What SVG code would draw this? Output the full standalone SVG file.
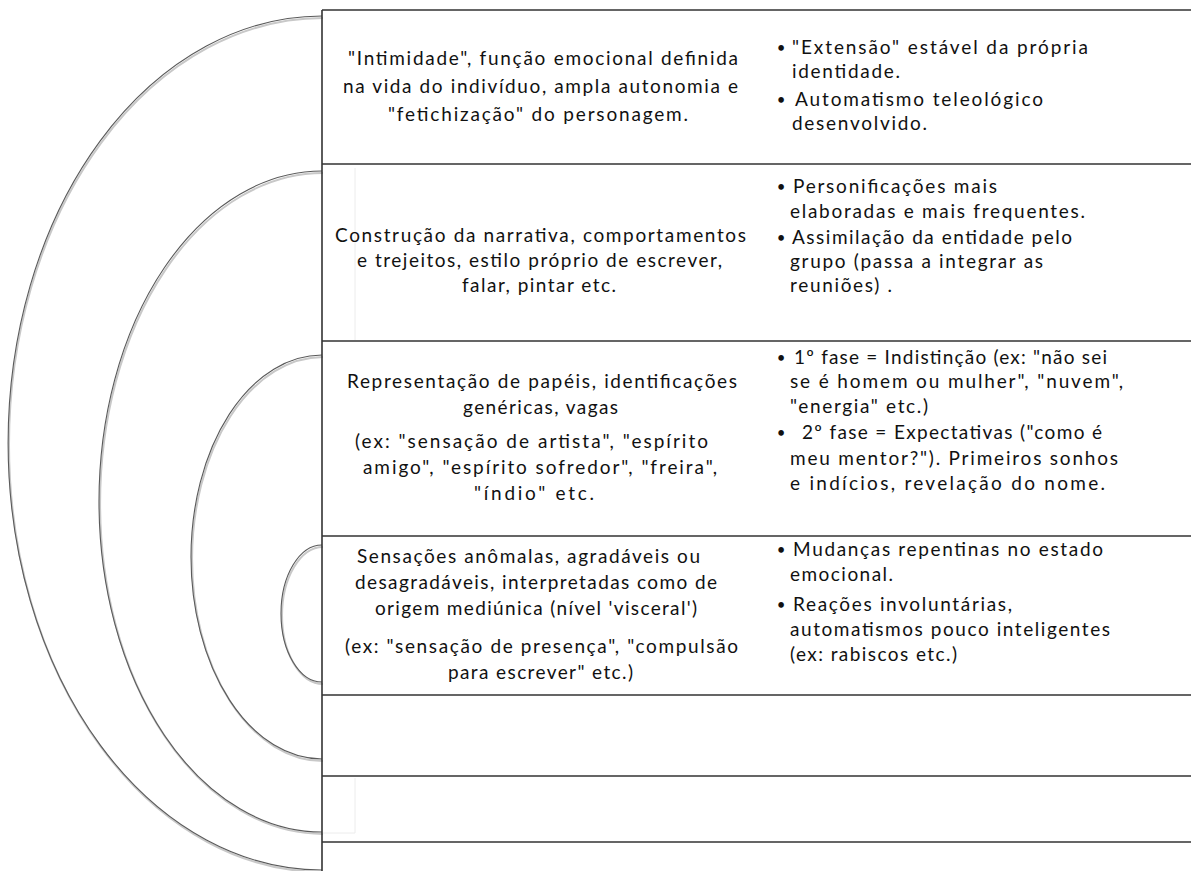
<svg xmlns="http://www.w3.org/2000/svg" width="1191" height="871" viewBox="0 0 1191 871">
<style>
.arc{fill:none;stroke:#5a5a5a;stroke-width:1.1}
.arcsh{fill:none;stroke:#c8c8c8;stroke-width:2}
.rule{stroke:#333;stroke-width:1.6;fill:none}
.faint{stroke:#ececec;stroke-width:1;fill:none}
text{font-family:Lato,"Liberation Sans",sans-serif;font-size:19px;fill:#111}
.b{font-size:15px}
</style>
<rect width="1191" height="871" fill="#fff"/>
<g id="arcs">
<path class="arcsh" d="M323,18 A314,427 0 0 0 323,872"/>
<path class="arcsh" d="M323,173 A223,330.5 0 0 0 323,834"/>
<path class="arcsh" d="M323,357 A131,202 0 0 0 323,761"/>
<path class="arcsh" d="M323,547 A41,68.5 0 0 0 323,684"/>
<path class="arc" d="M322,16 A314,427 0 0 0 322,870"/>
<path class="arc" d="M322,171 A223,330.5 0 0 0 322,832"/>
<path class="arc" d="M322,355 A131,202 0 0 0 322,759"/>
<path class="arc" d="M322,545 A41,68.5 0 0 0 322,682"/>
</g>
<g id="table-lines">
<path class="faint" d="M355,168 V340 M355,778 V833 M322,833 H355"/>
<path class="rule" d="M322,10 V871"/>
<path class="rule" d="M322,10 H1191 M322,164 H1191 M322,341 H1191 M322,536 H1191 M322,695 H1191 M322,776 H1191 M322,842 H1191"/>
</g>
<g id="row1">
<text x="348" y="65" textLength="390">"Intimidade", função emocional definida</text>
<text x="343" y="93" textLength="395">na vida do indivíduo, ampla autonomia e</text>
<text x="388" y="121" textLength="300">"fetichização" do personagem.</text>
<text class="b" x="781" y="53" text-anchor="middle">•</text>
<text x="792" y="54" textLength="296">"Extensão" estável da própria</text>
<text x="792" y="78" textLength="108">identidade.</text>
<text class="b" x="781" y="105" text-anchor="middle">•</text>
<text x="795" y="106" textLength="248">Automatismo teleológico</text>
<text x="792" y="130" textLength="135">desenvolvido.</text>
</g>
<g id="row2">
<text x="335" y="242" textLength="411">Construção da narrativa, comportamentos</text>
<text x="357" y="267" textLength="365">e trejeitos, estilo próprio de escrever,</text>
<text x="462" y="292" textLength="154">falar, pintar etc.</text>
<text class="b" x="781" y="192" text-anchor="middle">•</text>
<text x="793" y="193" textLength="204">Personificações mais</text>
<text x="790" y="218" textLength="295">elaboradas e mais frequentes.</text>
<text class="b" x="781" y="243" text-anchor="middle">•</text>
<text x="792" y="244" textLength="280">Assimilação da entidade pelo</text>
<text x="790" y="268" textLength="253">grupo (passa a integrar as</text>
<text x="790" y="292" textLength="102">reuniões) .</text>
</g>
<g id="row3">
<text x="347" y="388" textLength="390">Representação de papéis, identificações</text>
<text x="463" y="414" textLength="155">genéricas, vagas</text>
<text x="355" y="448" textLength="353">(ex: "sensação de artista", "espírito</text>
<text x="363" y="474" textLength="354">amigo", "espírito sofredor", "freira",</text>
<text x="474" y="500" textLength="120">"índio" etc.</text>
<text class="b" x="781" y="363" text-anchor="middle">•</text>
<text x="794" y="364" textLength="313">1º fase = Indistinção (ex: "não sei</text>
<text x="790" y="388" textLength="333">se é homem ou mulher", "nuvem",</text>
<text x="790" y="413" textLength="138">"energia" etc.)</text>
<text class="b" x="781" y="438" text-anchor="middle">•</text>
<text x="802" y="439" textLength="300">2º fase = Expectativas ("como é</text>
<text x="790" y="465" textLength="328">meu mentor?"). Primeiros sonhos</text>
<text x="790" y="490" textLength="315">e indícios, revelação do nome.</text>
</g>
<g id="row4">
<text x="357" y="563" textLength="343">Sensações anômalas, agradáveis ou</text>
<text x="355" y="589" textLength="362">desagradáveis, interpretadas como de</text>
<text x="375" y="615" textLength="322">origem mediúnica (nível 'visceral')</text>
<text x="345" y="653" textLength="393">(ex: "sensação de presença", "compulsão</text>
<text x="448" y="679" textLength="185">para escrever" etc.)</text>
<text class="b" x="781" y="555" text-anchor="middle">•</text>
<text x="793" y="556" textLength="310">Mudanças repentinas no estado</text>
<text x="790" y="581" textLength="103">emocional.</text>
<text class="b" x="781" y="610" text-anchor="middle">•</text>
<text x="793" y="611" textLength="219">Reações involuntárias,</text>
<text x="790" y="636" textLength="320">automatismos pouco inteligentes</text>
<text x="790" y="661" textLength="167">(ex: rabiscos etc.)</text>
</g>
<g id="row5"></g>
<g id="row6"></g>
</svg>
